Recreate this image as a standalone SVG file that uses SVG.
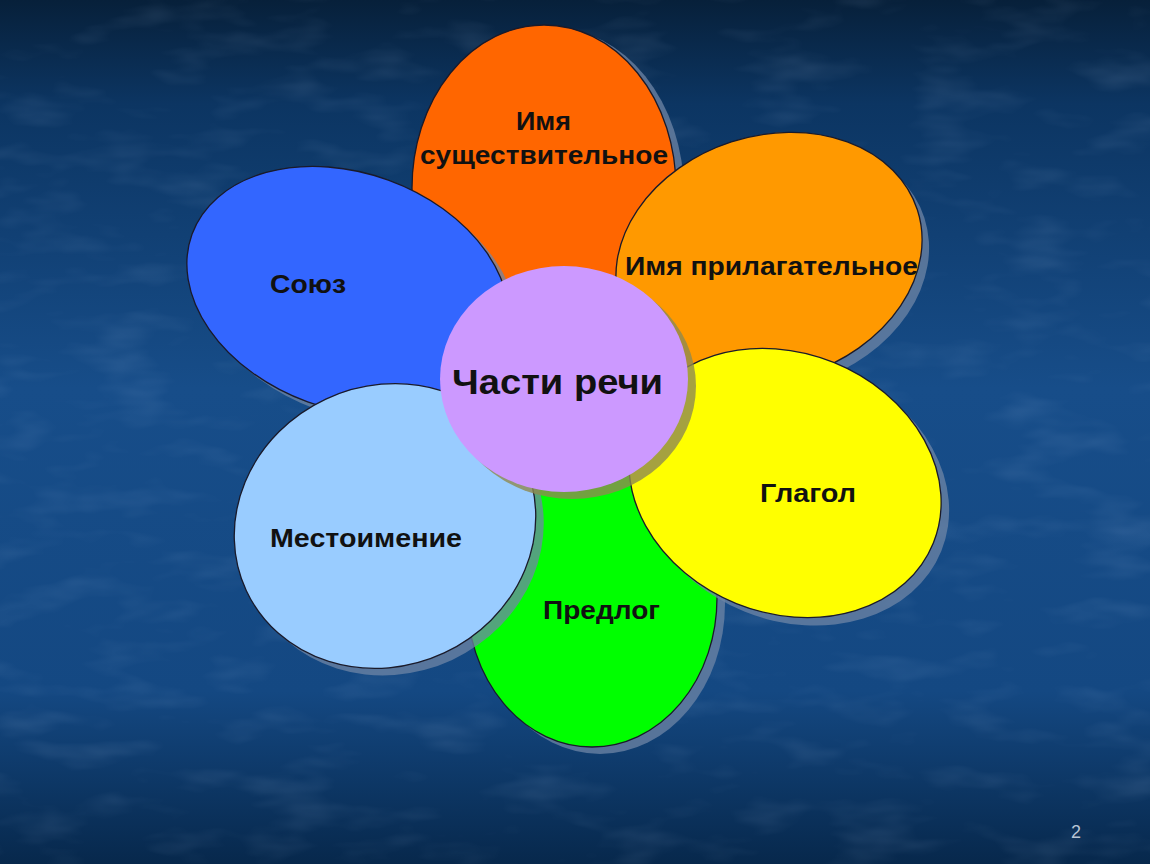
<svg xmlns="http://www.w3.org/2000/svg" width="1150" height="864" viewBox="0 0 1150 864">
<defs>
<linearGradient id="bg" x1="0" y1="0" x2="0" y2="1">
<stop offset="0" stop-color="#07203a"/>
<stop offset="0.12" stop-color="#0c3562"/>
<stop offset="0.45" stop-color="#174d89"/>
<stop offset="0.8" stop-color="#144882"/>
<stop offset="1" stop-color="#07284c"/>
</linearGradient>
<filter id="tex" x="0" y="0" width="100%" height="100%">
<feTurbulence type="fractalNoise" baseFrequency="0.012 0.035" numOctaves="3" seed="4"/>
<feColorMatrix type="matrix" values="0 0 0 0 0.55  0 0 0 0 0.7  0 0 0 0 0.95  0 0 0 1.1 -0.55"/>
</filter>
<style>
.p{stroke:#1a1a2a;stroke-width:1.3}
.sh{fill:#6f86a6;opacity:0.75}
.t{font-family:"Liberation Sans",Arial,sans-serif;font-weight:bold;font-size:25px;fill:#111;text-anchor:middle}
</style>
</defs>
<rect width="1150" height="864" fill="url(#bg)"/>
<rect width="1150" height="864" filter="url(#tex)" opacity="0.22"/>
<g id="noun">
<ellipse class="sh" cx="552" cy="193" rx="132" ry="165"/>
<ellipse class="p" cx="544" cy="188" rx="132" ry="163" fill="#ff6600"/>
<text class="t" x="543.5" y="130" textLength="55" lengthAdjust="spacingAndGlyphs">Имя</text>
<text class="t" x="544" y="164" textLength="248" lengthAdjust="spacingAndGlyphs">существительное</text>
</g>
<g id="conj">
<ellipse class="sh" cx="356" cy="298" rx="166" ry="118" transform="rotate(20 356 298)"/>
<ellipse class="p" cx="348" cy="291" rx="166" ry="118" transform="rotate(20 348 291)" fill="#3366ff"/>
<text class="t" x="308" y="293" textLength="76" lengthAdjust="spacingAndGlyphs">Союз</text>
</g>
<g id="adj">
<ellipse class="sh" cx="776" cy="266" rx="156" ry="122" transform="rotate(-18 776 266)"/>
<ellipse class="p" cx="769" cy="258" rx="156" ry="122" transform="rotate(-18 769 258)" fill="#ff9900"/>
<text class="t" x="771.5" y="275" textLength="293" lengthAdjust="spacingAndGlyphs">Имя прилагательное</text>
</g>
<g id="prep">
<ellipse class="sh" cx="600" cy="604" rx="125" ry="150"/>
<ellipse class="p" cx="592" cy="598" rx="125" ry="149" fill="#00ff00"/>
<text class="t" x="601.5" y="619" textLength="117" lengthAdjust="spacingAndGlyphs">Предлог</text>
</g>
<g id="verb">
<ellipse class="sh" cx="793" cy="491" rx="160" ry="130" transform="rotate(22 793 491)"/>
<ellipse class="p" cx="785" cy="483" rx="160" ry="130" transform="rotate(22 785 483)" fill="#ffff00"/>
<text class="t" x="808" y="502" textLength="96" lengthAdjust="spacingAndGlyphs">Глагол</text>
</g>
<g id="pron">
<ellipse class="sh" cx="393" cy="533" rx="153" ry="140" transform="rotate(-25 393 533)"/>
<ellipse class="p" cx="385" cy="526" rx="153" ry="140" transform="rotate(-25 385 526)" fill="#99ccff"/>
<text class="t" x="366" y="547" textLength="192" lengthAdjust="spacingAndGlyphs">Местоимение</text>
</g>
<g id="center">
<ellipse cx="572" cy="386" rx="124" ry="113" fill="#8f8a50" opacity="0.8"/>
<ellipse cx="564" cy="379" rx="124" ry="113" fill="#cc99ff"/>
<text class="t" x="557.5" y="394" style="font-size:35px" textLength="211" lengthAdjust="spacingAndGlyphs">Части речи</text>
</g>
<text x="1076" y="838" style="font-family:'Liberation Sans',Arial,sans-serif;font-size:18px;fill:#b8c4d4;text-anchor:middle">2</text>
</svg>
